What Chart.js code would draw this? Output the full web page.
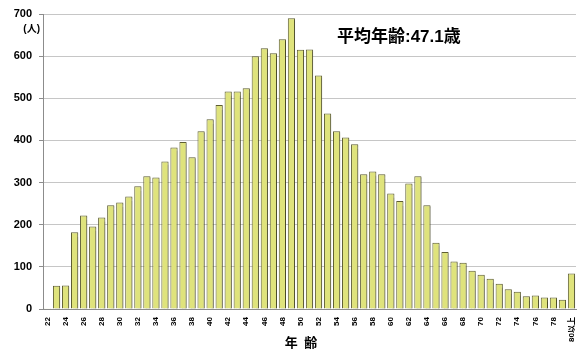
<!DOCTYPE html>
<html>
<head>
<meta charset="utf-8">
<script src="https://cdn.jsdelivr.net/npm/chart.js@4"></script>
<style>
  html, body { margin: 0; padding: 0; background: #fff; }
  #wrap { width: 577px; height: 353px; }
</style>
</head>
<body>
<div id="wrap"><canvas id="c" width="577" height="353"></canvas></div>
<script>
// Age categories: 22–79, then 80 and over
const ages = [
  '22','23','24','25','26','27','28','29','30','31','32','33','34','35','36','37','38','39',
  '40','41','42','43','44','45','46','47','48','49','50','51','52','53','54','55','56','57',
  '58','59','60','61','62','63','64','65','66','67','68','69','70','71','72','73','74','75',
  '76','77','78','79','80以上'
];
// Head count per age
const counts = [
  2, 55, 56, 182, 222, 196, 217, 246, 253, 267, 291, 315, 312, 350, 383, 396, 360, 422,
  450, 484, 516, 516, 524, 600, 619, 607, 640, 690, 615, 616, 554, 464, 422, 407, 391, 320,
  326, 320, 274, 256, 298, 315, 246, 157, 135, 113, 110, 91, 81, 72, 60, 47, 41, 30,
  32, 27, 27, 22, 84
];
const yTicks = [0, 100, 200, 300, 400, 500, 600, 700];
const unitLabel = '(人)';
const averageLabel = '平均年齢:47.1歳';
const xTitle = '年\u2002齢';

const FONT = '"Liberation Sans", Arial, "Noto Sans CJK JP", sans-serif';

const annotations = {
  id: 'annotations',
  beforeDatasetsDraw(chart) {
    const ctx = chart.ctx;
    ctx.save();
    ctx.shadowColor = 'rgba(0,0,0,0.22)';
    ctx.shadowOffsetX = 2;
    ctx.shadowOffsetY = 1;
    ctx.shadowBlur = 1;
  },
  afterDatasetsDraw(chart) {
    chart.ctx.restore();
  },
  afterDraw(chart) {
    const ctx = chart.ctx;
    const y = chart.scales.y;
    ctx.save();
    ctx.fillStyle = '#000';
    ctx.textBaseline = 'middle';
    ctx.textAlign = 'right';
    ctx.font = 'bold 10px ' + FONT;
    ctx.fillText(unitLabel, 40, y.getPixelForValue(700) + 15);
    ctx.textAlign = 'left';
    ctx.font = 'bold 17px ' + FONT;
    ctx.fillText(averageLabel, 337, 37);
    // axis title under the age labels
    ctx.textAlign = 'center';
    ctx.font = 'bold 13px ' + FONT;
    ctx.fillText(xTitle, 301, 343);
    ctx.restore();
  }
};

new Chart(document.getElementById('c'), {
  type: 'bar',
  data: {
    labels: ages,
    datasets: [{
      data: counts,
      backgroundColor: '#dfe37c',
      borderColor: '#5e5e32',
      borderWidth: 1,
      barPercentage: 0.8,
      categoryPercentage: 1.0
    }]
  },
  options: {
    responsive: false,
    animation: false,
    devicePixelRatio: 1,
    layout: { padding: { top: 14, right: 1, bottom: 2, left: 0 } },
    plugins: { legend: { display: false }, tooltip: { enabled: false } },
    scales: {
      x: {
        afterFit: (s) => { s.height = 42; s.paddingLeft = 0; s.paddingRight = 0; },
        grid: { display: false, drawTicks: false },
        border: { color: '#8c8c8c', width: 1 },
        ticks: {
          autoSkip: false,
          maxRotation: 90,
          minRotation: 90,
          padding: 8,
          color: '#000',
          font: { family: FONT, size: 8, weight: 'bold' },
          callback: (v, i) => (i % 2 === 0 ? ages[i] : '')
        }
      },
      y: {
        min: 0,
        max: 700,
        afterBuildTicks: (s) => { s.ticks = yTicks.map(v => ({ value: v })); },
        afterFit: (s) => { s.width = 43; },
        grid: { color: '#c6c6c6', lineWidth: 1, tickLength: 4, tickColor: '#8c8c8c' },
        border: { color: '#8c8c8c', width: 1 },
        ticks: {
          padding: 7,
          color: '#000',
          font: { family: FONT, size: 11, weight: 'bold' }
        }
      }
    }
  },
  plugins: [annotations]
});
</script>
</body>
</html>
